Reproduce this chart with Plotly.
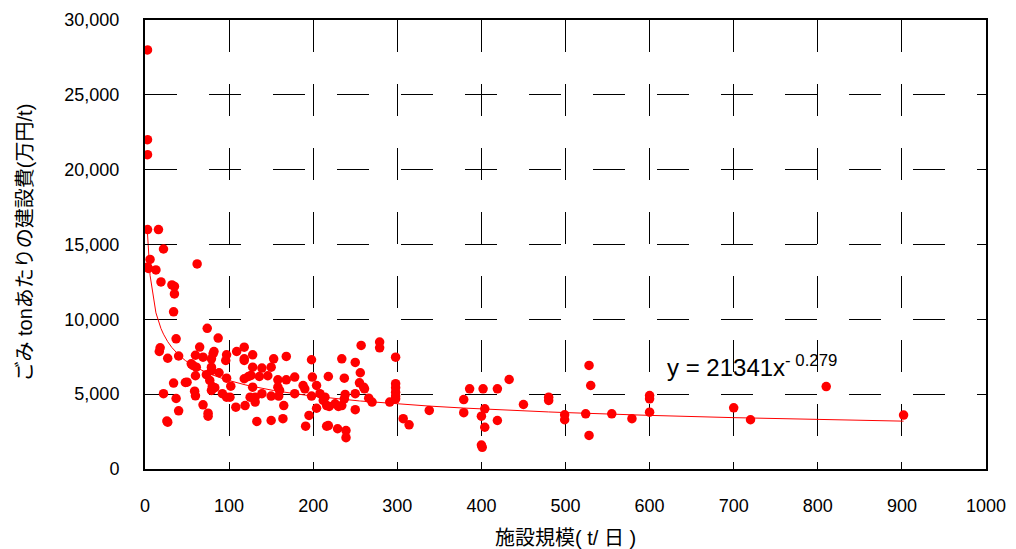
import numpy as np
import plotly.graph_objects as go

# facility scale (t/day)
scale_t_per_day = [
    3, 3, 3, 3, 16, 22, 6, 3, 4, 13, 62, 19, 32, 35, 35, 34, 74, 37, 87, 18, 17, 27, 40, 65, 82, 81,
    69, 79, 60, 97, 96, 109, 118, 118, 118, 128, 153, 168, 198, 55, 57, 61, 79, 79, 88, 60, 73,
    128, 139, 150, 118, 123, 126, 136, 146, 158, 168, 178, 97, 34, 48, 50, 77, 80, 83, 102, 128,
    158, 160, 188, 199, 204, 218, 22, 37, 59, 60, 79, 92, 97, 101, 125, 131, 131, 139, 150, 159,
    178, 190, 198, 208, 214, 212, 204, 69, 40, 75, 75, 108, 119, 165, 26, 27, 133, 150, 164, 191,
    195, 216,
    279, 279, 257, 298, 234, 250, 237, 256, 255, 260, 261, 298, 298, 298, 298, 298, 238, 237, 250,
    266, 270, 291, 216, 219, 226, 230, 234, 250, 218, 229, 239, 239, 307, 314, 338, 379, 379, 386,
    402, 419, 433, 404, 400, 404, 419, 400, 401, 450,
    480, 480, 499, 499, 524, 528, 530, 528, 555, 579, 600, 600, 600, 700, 720, 810, 902,
]
# construction cost per ton (10k yen / t)
cost_per_ton = [
    28000, 22000, 21000, 16000, 16000, 14700, 14000, 13500, 13400, 13300, 13700, 12500, 12300, 12200,
    11700, 10500, 9400, 8700, 8750, 8100, 7850, 7400, 7550, 8150, 7850, 7700,
    7470, 7360, 7600, 7630, 7250, 7850, 8140, 7360, 7250, 7630, 7360, 7520, 7300, 7030, 6920, 6800,
    6800, 6580, 6430, 6230, 6300,
    6800, 6740, 6800, 6030, 6180, 6250, 6180, 6230, 5960, 5960, 6140, 6070, 5740, 5780, 5800, 5920,
    5510, 5430, 5530, 5470,
    5470, 5250, 5580, 6140, 5580, 6180, 5030, 4710, 5200, 4890, 5250, 5030, 4800, 4800, 4800, 4800,
    4470, 5030, 4870, 4870,
    5030, 5360, 4870, 5030, 4800, 4580, 4060, 4290, 3890, 3730, 3530, 4130, 4240, 4240, 3200, 3130,
    3180, 3240, 3360, 2860,
    3580, 2860,
    8480, 8100, 8260, 7470, 7360, 7120, 6070, 6430, 5760, 5470, 5360, 5700, 5430, 5130, 4870, 4690,
    4980, 4690, 5030,
    4730, 4470, 4470, 4240, 4180, 4360, 4180, 4240, 3960, 2900, 2690, 2570, 2090, 3360, 2950, 3910,
    4640, 3760, 5360,
    5360, 5360, 5980, 4020, 3530, 2790, 3240, 1600, 1450, 4310,
    4800, 4580, 3620, 3290, 3690, 6920, 5580, 2240, 3690, 3360, 4910, 4690, 3800, 4090, 3290, 5510,
    3600,
]

# power trendline coefficients shown on the chart
trend_coef = 21341
trend_exp = -0.279
trend_label = "y = 21341x<sup>- 0.279</sup>"

x_ticks = [0, 100, 200, 300, 400, 500, 600, 700, 800, 900, 1000]
y_ticks = [0, 5000, 10000, 15000, 20000, 25000, 30000]

x_title = "施設規模( t/ 日 )"
y_title = "ごみ tonあたりの建設費(万円/t)"

trend_x = np.array(sorted(set(scale_t_per_day)), dtype=float)
trend_y = trend_coef * trend_x ** trend_exp

fig = go.Figure()
fig.add_trace(go.Scatter(
    x=trend_x, y=trend_y, mode="lines",
    line=dict(color="#FF0000", width=1), hoverinfo="skip", showlegend=False,
))
fig.add_trace(go.Scatter(
    x=scale_t_per_day, y=cost_per_ton, mode="markers",
    marker=dict(color="#FF0000", size=9.5, line=dict(width=0)), showlegend=False,
))

fig.add_annotation(
    x=618, y=6850, xref="x", yref="y", text=trend_label, showarrow=False,
    xanchor="left", yanchor="middle",
    font=dict(family="Liberation Sans, Arial", size=24, color="#000"),
)

tick_font = dict(family="Liberation Sans, Arial", size=18, color="#000")
title_font = dict(family="Liberation Sans, Noto Sans CJK JP", size=20, color="#000")

fig.add_annotation(
    x=0.5, y=0, xref="paper", yref="paper", text=x_title, showarrow=False,
    xanchor="center", yanchor="middle", yshift=-69, font=title_font,
)
fig.add_annotation(
    x=0, y=0.5, xref="paper", yref="paper", text=y_title, showarrow=False,
    xanchor="center", yanchor="middle", xshift=-121, yshift=2, textangle=-90,
    font=title_font,
)

fig.update_layout(
    width=1016, height=549,
    margin=dict(l=145, r=30, t=20, b=80),
    paper_bgcolor="white", plot_bgcolor="white",
    xaxis=dict(
        range=[0, 1000], tickvals=x_ticks, ticktext=[str(v) for v in x_ticks],
        showgrid=True, gridcolor="#000", gridwidth=1, griddash="32px,32px",
        zeroline=False, showline=True, linecolor="#000", linewidth=2, mirror=True,
        ticks="inside", ticklen=7, tickcolor="#000", tickfont=tick_font,
        ticklabelstandoff=19, automargin=False,
    ),
    yaxis=dict(
        range=[0, 30000], tickvals=y_ticks, tickformat=",",
        showgrid=True, gridcolor="#000", gridwidth=1, griddash="32px,32px",
        zeroline=False, showline=True, linecolor="#000", linewidth=2, mirror=True,
        ticks="inside", ticklen=7, tickcolor="#000", tickfont=tick_font,
        ticklabelstandoff=20, automargin=False,
    ),
)

fig.write_html("out.html")
